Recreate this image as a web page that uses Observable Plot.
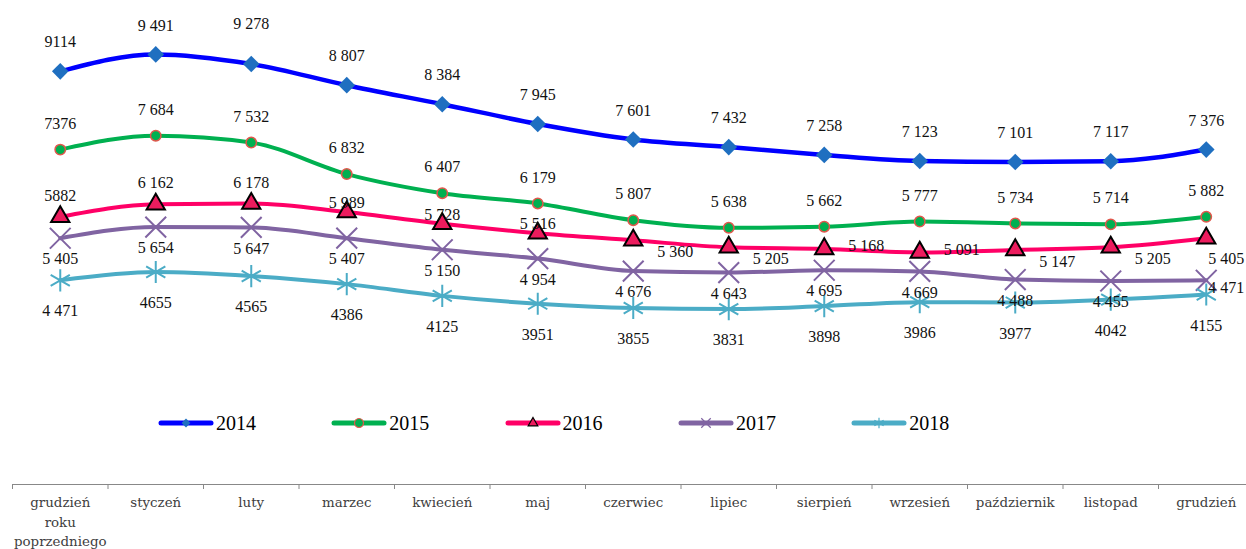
<!DOCTYPE html>
<html><head><meta charset="utf-8">
<script src="https://cdn.jsdelivr.net/npm/d3@7"></script>
<script src="https://cdn.jsdelivr.net/npm/@observablehq/plot@0.6"></script>
<style>
body{margin:0;background:#fff;}
#wrap{position:relative;width:1246px;height:549px;overflow:hidden;}
#legend{position:absolute;left:158px;top:411px;display:flex;font-family:"Liberation Serif",serif;font-size:20px;color:#000;}
.item{width:173.3px;display:flex;align-items:center;height:24px;}
.item svg{display:block;}
</style></head><body>
<div id="wrap"><div id="chart"></div><div id="legend"></div></div>
<script>
// ---- data ----
const categories = ["grudzień\nroku\npoprzedniego","styczeń","luty","marzec","kwiecień","maj","czerwiec","lipiec","sierpień","wrzesień","październik","listopad","grudzień"];
const years = ["2014","2015","2016","2017","2018"];
const v2014 = [9114, 9491, 9278, 8807, 8384, 7945, 7601, 7432, 7258, 7123, 7101, 7117, 7376];
const v2015 = [7376, 7684, 7532, 6832, 6407, 6179, 5807, 5638, 5662, 5777, 5734, 5714, 5882];
const v2016 = [5882, 6162, 6178, 5989, 5728, 5516, 5360, 5205, 5168, 5091, 5147, 5205, 5405];
const v2017 = [5405, 5654, 5647, 5407, 5150, 4954, 4676, 4643, 4695, 4669, 4488, 4455, 4471];
const v2018 = [4471, 4655, 4565, 4386, 4125, 3951, 3855, 3831, 3898, 3986, 3977, 4042, 4155];
const seriesValues = [v2014, v2015, v2016, v2017, v2018];
// labels printed without thousands space in the original
const plainLabelIdx = {"2014": [0], "2015": [0], "2016": [0], "2017": [], "2018": [1,2,3,4,5,6,7,8,9,10,11,12]};

// ---- styles ----
const styles = {
  "2014": {line: "#0000FF", lw: 4.5, symbol: "diamond2", r: 7.5, fill: "#1F6FC0", stroke: "none", sw: 0},
  "2015": {line: "#00B050", lw: 4, symbol: "circle", r: 5.2, fill: "#00B050", stroke: "#E0574C", sw: 1.5},
  "2016": {line: "#FF0066", lw: 4, symbol: "triangle", r: 6.8, fill: "#EC1C5E", stroke: "#000", sw: 2},
  "2017": {line: "#8064A2", lw: 4, symbol: "times", r: 9.5, fill: "none", stroke: "#8064A2", sw: 2},
  "2018": {line: "#4BACC6", lw: 4, symbol: "asterisk", r: 10.5, fill: "none", stroke: "#4BACC6", sw: 2}
};
// label placement groups (offsets relative to the point)
const placements = {
  above14: [0, -29], higher14: [0, -40], above15: [0, -26],
  aboveA16: [0, -21], aboveB16: [0, -9], rightLow16: [42, 12], rightMid16: [42, -3], corner16: [20, 21],
  below17: [0, 21], corner17: [20, 8], below18: [0, 31]
};
function placementOf(year, i) {
  if (year === "2014") return i === 2 ? "higher14" : "above14";
  if (year === "2015") return "above15";
  if (year === "2016") {
    if (i <= 2) return "aboveA16";
    if (i <= 5) return "aboveB16";
    if (i === 12) return "corner16";
    if (i === 8 || i === 9) return "rightMid16";
    return "rightLow16";
  }
  if (year === "2017") return i === 12 ? "corner17" : "below17";
  return "below18";
}

const fmtSpace = d3.formatLocale({thousands: " ", grouping: [3], decimal: ",", currency: ["", ""]}).format(",d");

const rows = [];
years.forEach((y, s) => seriesValues[s].forEach((v, i) => {
  rows.push({year: y, i, value: v,
    label: plainLabelIdx[y].includes(i) ? String(v) : fmtSpace(v),
    place: placementOf(y, i)});
}));

const marks = [];
for (const y of years) {
  const st = styles[y];
  const data = rows.filter(d => d.year === y);
  marks.push(Plot.line(data, {x: "i", y: "value", stroke: st.line, strokeWidth: st.lw, curve: "monotone-x"}));
  marks.push(Plot.dot(data, {x: "i", y: "value", symbol: () => st.symbol, r: st.r, fill: st.fill, stroke: st.stroke, strokeWidth: st.sw}));
}
for (const [key, [dx, dy]] of Object.entries(placements)) {
  marks.push(Plot.text(rows.filter(d => d.place === key), {
    x: "i", y: "value", text: "label", dx, dy,
    fontFamily: "Liberation Serif", fontSize: 16, fill: "#111"
  }));
}
// category labels under the axis
marks.push(Plot.text(categories, {
  x: (d, i) => i, text: d => d, frameAnchor: "bottom", dy: 9, lineAnchor: "top", lineHeight: 1.45,
  fontFamily: "DejaVu Serif", fontSize: 13.4, fill: "#404040"
}));

const n = categories.length;
const chart = Plot.plot({
  width: 1246, height: 549,
  marginLeft: 12, marginRight: 0, marginTop: 0, marginBottom: 65,
  style: {color: "#888", background: "#fff", overflow: "visible"},
  x: {type: "linear", domain: [-0.5, n - 0.5], range: [12, 12 + 95.5 * n],
      ticks: d3.range(n + 1).map(k => k - 0.5), tickFormat: () => "", tickSize: 5, line: true, label: null},
  y: {domain: [0, 10000], range: [481, 31], axis: null},
  symbol: {type: "identity"},
  marks
});
document.getElementById("chart").appendChild(chart);

// ---- legend ----
const legend = document.getElementById("legend");
const legSizes = {"2014": 50, "2015": 64, "2016": 40, "2017": 60, "2018": 80};
const symMap = {diamond2: d3.symbolDiamond2, circle: d3.symbolCircle, triangle: d3.symbolTriangle, times: d3.symbolTimes, asterisk: d3.symbolAsterisk};
for (const y of years) {
  const st = styles[y];
  const item = document.createElement("div");
  item.className = "item";
  const path = d3.symbol(symMap[st.symbol], legSizes[y])();
  const strokeOnly = st.fill === "none";
  item.innerHTML = `<svg width="58" height="24"><line x1="3" x2="53" y1="12" y2="12" stroke="${st.line}" stroke-width="5" stroke-linecap="round"/>` +
    `<path transform="translate(28,12)" d="${path}" fill="${st.fill}" stroke="${st.stroke}" stroke-width="${strokeOnly ? 1.2 : (st.sw ? 1.2 : 0)}"/></svg><span>${y}</span>`;
  legend.appendChild(item);
}
</script>
</body></html>
